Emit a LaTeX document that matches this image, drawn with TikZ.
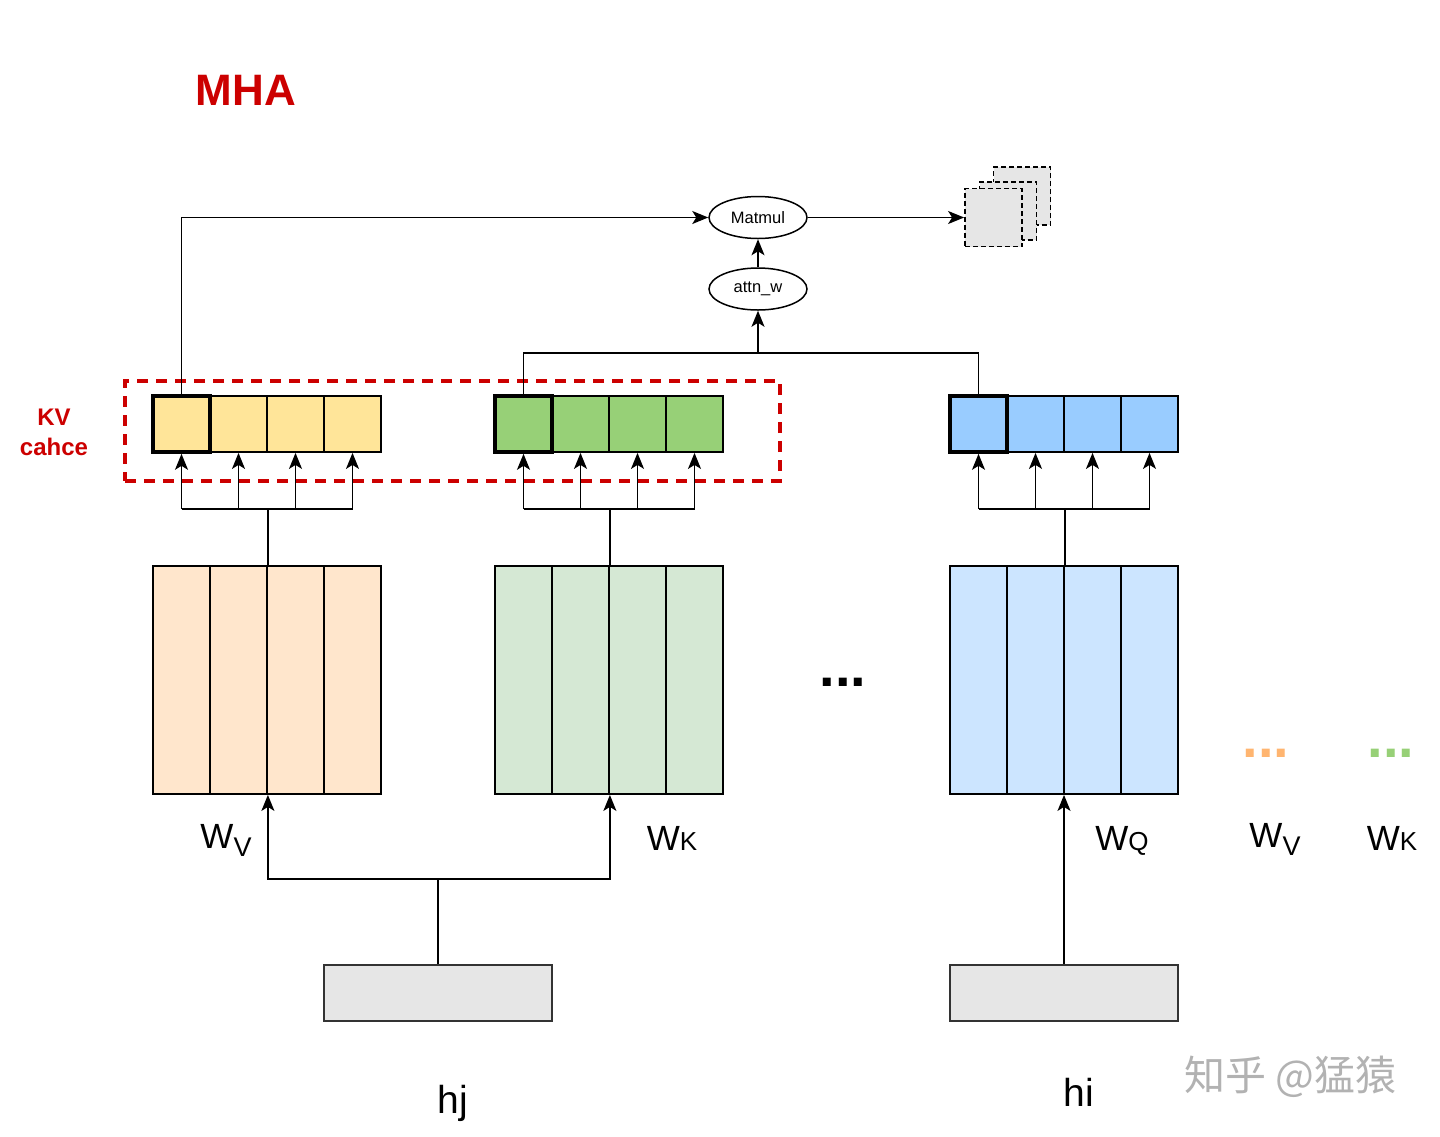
\documentclass[tikz,border=0pt]{standalone}
\usepackage{fontspec}
\setmainfont{Liberation Sans}
\newfontfamily\cjkfont{Noto Sans CJK SC}
\usetikzlibrary{shapes.geometric,arrows.meta}
\definecolor{kvred}{HTML}{CC0000}
\definecolor{vcache}{HTML}{FFE599}
\definecolor{kcache}{HTML}{97D077}
\definecolor{qcache}{HTML}{99CCFF}
\definecolor{vmat}{HTML}{FFE6CC}
\definecolor{kmat}{HTML}{D5E8D4}
\definecolor{qmat}{HTML}{CCE5FF}
\definecolor{boxgray}{HTML}{E6E6E6}
\definecolor{vdots}{HTML}{FFB570}
\newcommand{\wlow}[1]{W\raisebox{-8pt}{\fontsize{27}{27}\selectfont #1}}
\newcommand{\wsmall}[1]{W{\fontsize{26}{26}\selectfont #1}}

\begin{document}
\begin{tikzpicture}[x=1pt,y=-1pt,line width=1.5pt,
  arr/.style={-{Stealth[length=16pt,width=13pt,inset=4pt]}},
  cell/.style={draw,minimum width=57pt,minimum height=56pt,inner sep=0pt,line width=1.8pt},
  headcell/.style={cell,line width=3.6pt},
  wcol/.style={draw,minimum width=57pt,minimum height=228pt,inner sep=0pt,line width=1.8pt},
  op/.style={ellipse,draw,minimum width=98pt,minimum height=42pt,inner sep=0pt,font=\fontsize{16.5}{16.5}\selectfont},
  inbox/.style={draw=black!80,fill=boxgray,minimum width=228pt,minimum height=56pt,line width=1.8pt},
  outbox/.style={draw,dash pattern=on 5pt off 3pt,fill=boxgray,minimum width=57pt,minimum height=58pt,line width=1.8pt},
  wlabel/.style={font=\fontsize{35}{35}\selectfont,anchor=base},
  hlabel/.style={font=\fontsize{39}{39}\selectfont,anchor=base},
  dotsrow/.style={font=\bfseries\fontsize{56}{56}\selectfont,anchor=base,inner sep=0pt}]
\useasboundingbox (0,0) rectangle (1440,1136);
\node[font=\bfseries\fontsize{44}{44}\selectfont,text=kvred] (title) at (246,90) {MHA};

% weight matrices
\foreach \i in {1,...,4} {
  \node[wcol,fill=vmat] (wv\i) at ({153+57*(\i-0.5)},680) {};
  \node[wcol,fill=kmat] (wk\i) at ({495+57*(\i-0.5)},680) {};
  \node[wcol,fill=qmat] (wq\i) at ({950+57*(\i-0.5)},680) {};
}
% cache rows, first cell drawn last and thick
\foreach \i in {2,3,4} {
  \node[cell,fill=vcache] (v\i) at ({153+57*(\i-0.5)},424) {};
  \node[cell,fill=kcache] (k\i) at ({495+57*(\i-0.5)},424) {};
  \node[cell,fill=qcache] (q\i) at ({950+57*(\i-0.5)},424) {};
}
\node[headcell,fill=vcache] (v1) at (181.5,424) {};
\node[headcell,fill=kcache] (k1) at (523.5,424) {};
\node[headcell,fill=qcache] (q1) at (978.5,424) {};

% fan out to cache cells
\draw (wv2.south east |- wv2.north) -- ++(0,-56) coordinate (vfork);
\draw (wk2.south east |- wk2.north) -- ++(0,-56) coordinate (kfork);
\draw (wq2.south east |- wq2.north) -- ++(0,-56) coordinate (qfork);
\draw (v1.south |- vfork) -- (v4.south |- vfork);
\draw (k1.south |- kfork) -- (k4.south |- kfork);
\draw (q1.south |- qfork) -- (q4.south |- qfork);
\foreach \i in {1,...,4} {
  \draw[arr] (v\i.south |- vfork) -- (v\i.south);
  \draw[arr] (k\i.south |- kfork) -- (k\i.south);
  \draw[arr] (q\i.south |- qfork) -- (q\i.south);
}

% kv cache frame
\node[draw=kvred,line width=4.5pt,dash pattern=on 11pt off 8pt,minimum width=655pt,minimum height=100pt] (kvframe) at (452.5,431) {};
\node[text=kvred,font=\bfseries\fontsize{24}{30}\selectfont,align=center] (kvlabel) at (54,432) {KV\\cahce};

% attention
\node[op] (matmul) at (758,217.5) {Matmul};
\node[op] (attn) at (758,289) {attn\_w};
\coordinate (scorejoin) at (758,353);
\draw (k1.north) |- (scorejoin) -| (q1.north);
\draw[arr] (scorejoin) -- (attn.south);
\draw[arr] (attn.north) -- (matmul.south);
\draw[arr] (v1.north) |- (matmul.west);

% output heads
\node[outbox] (out3) at (1022,196) {};
\node[outbox] (out2) at (1008,211) {};
\node[outbox] (out1) at (993.5,217.5) {};
\draw[arr] (matmul.east) -- (out1.west);

% inputs
\node[inbox] (hjbox) at (438,993) {};
\node[inbox] (hibox) at (1064,993) {};
\coordinate (hjfork) at (438,879);
\draw (hjbox.north) -- (hjfork);
\draw[arr] (hjfork) -| (wv2.south east);
\draw[arr] (hjfork) -| (wk2.south east);
\draw[arr] (hibox.north) -- (hibox.north |- wq2.south);

% labels
\node[wlabel] (wvlabel) at (226,848) {\wlow{V}};
\node[wlabel] (wklabel) at (672,850) {\wsmall{K}};
\node[wlabel] (wqlabel) at (1122,850) {\wsmall{Q}};
\node[wlabel] (wvmore) at (1275,847) {\wlow{V}};
\node[wlabel] (wkmore) at (1392,850) {\wsmall{K}};
\node[hlabel] (hjlabel) at (453,1113) {hj};
\node[hlabel] (hilabel) at (1079,1106) {hi};
\node[dotsrow] (middots) at (843,686) {...};
\node[dotsrow,text=vdots] (vmoredots) at (1266,757) {...};
\node[dotsrow,text=kcache] (kmoredots) at (1391,757) {...};
\node[font=\cjkfont\fontsize{41}{41}\selectfont,text=black!30] (mark) at (1290,1077) {知乎 @猛猿};
\end{tikzpicture}
\end{document}
